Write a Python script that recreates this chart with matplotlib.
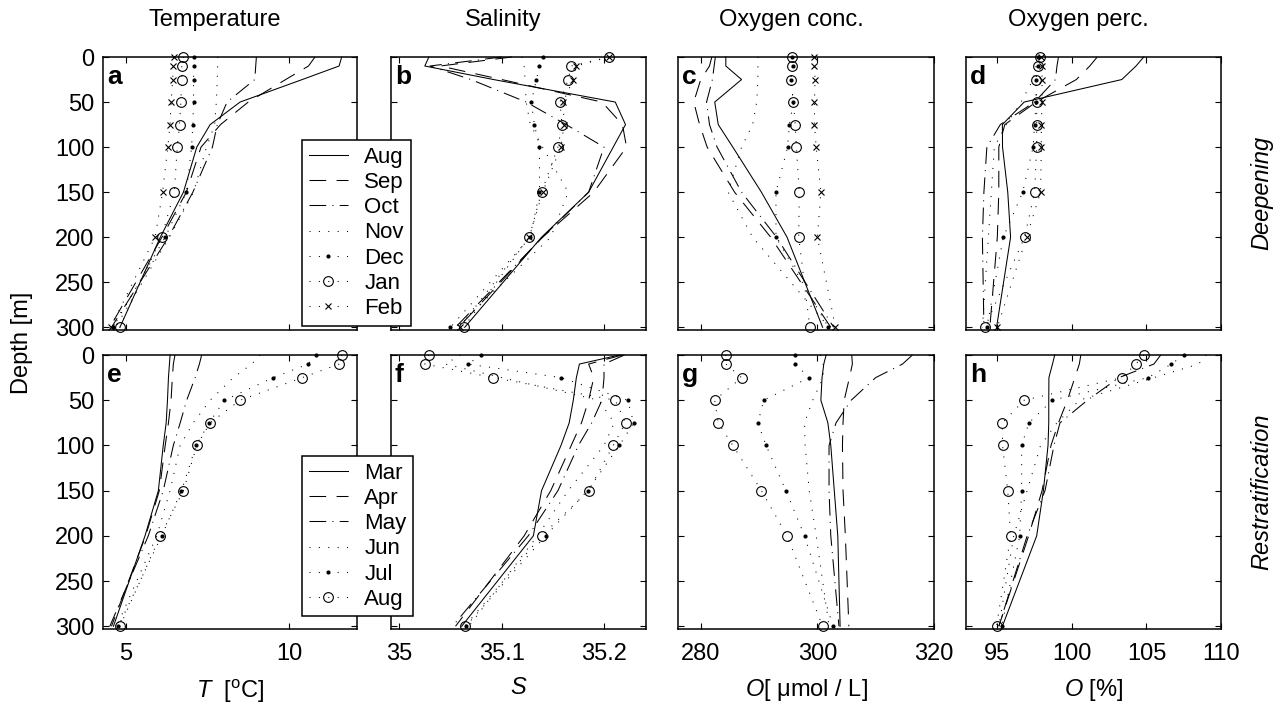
import matplotlib
matplotlib.use('Agg')
import matplotlib.pyplot as plt

plt.rcParams['font.family'] = 'Liberation Sans'
plt.rcParams['mathtext.fontset'] = 'custom'
plt.rcParams['mathtext.rm'] = 'Liberation Sans'
plt.rcParams['mathtext.it'] = 'Liberation Sans:italic'

# depth levels [m]
depth = [0, 10, 25, 50, 75, 100, 150, 200, 300]

# ---- temperature [degC]
temp_aug = [11.62, 11.54, 10.41, 8.50, 7.58, 7.17, 6.76, 6.05, 4.81]
temp_sep = [10.80, 10.60, 9.90, 8.75, 7.90, 7.30, 6.85, 6.10, 4.50]
temp_oct = [9.00, 8.98, 8.95, 8.10, 7.80, 7.65, 7.05, 6.30, 4.55]
temp_nov = [7.81, 7.81, 7.80, 7.77, 7.72, 7.47, 7.07, 6.33, 4.67]
temp_dec = [7.07, 7.07, 7.07, 7.07, 7.05, 7.01, 6.85, 6.20, 4.60]
temp_jan = [6.76, 6.71, 6.71, 6.68, 6.64, 6.57, 6.48, 6.09, 4.80]
temp_feb = [6.47, 6.45, 6.43, 6.38, 6.35, 6.28, 6.12, 5.89, 4.53]
temp_mar = [6.35, 6.33, 6.30, 6.27, 6.23, 6.14, 5.99, 5.58, 4.61]
temp_apr = [6.50, 6.45, 6.42, 6.38, 6.30, 6.20, 6.02, 5.60, 4.55]
temp_may = [7.32, 7.25, 7.12, 6.86, 6.66, 6.45, 6.14, 5.68, 4.50]
temp_jun = [9.11, 8.86, 8.29, 7.58, 7.06, 6.66, 6.35, 5.94, 4.71]
temp_jul = [10.83, 10.59, 9.52, 8.02, 7.55, 7.15, 6.70, 6.09, 4.76]

# ---- salinity
sal_aug = [35.029, 35.025, 35.092, 35.211, 35.221, 35.209, 35.185, 35.139, 35.064]
sal_sep = [35.110, 35.040, 35.100, 35.198, 35.218, 35.222, 35.190, 35.140, 35.058]
sal_oct = [35.100, 35.030, 35.070, 35.124, 35.163, 35.200, 35.185, 35.140, 35.055]
sal_nov = [35.120, 35.122, 35.123, 35.124, 35.128, 35.140, 35.165, 35.148, 35.056]
sal_dec = [35.140, 35.137, 35.134, 35.129, 35.132, 35.137, 35.137, 35.128, 35.050]
sal_jan = [35.205, 35.168, 35.165, 35.157, 35.159, 35.155, 35.139, 35.127, 35.063]
sal_feb = [35.205, 35.173, 35.170, 35.160, 35.161, 35.158, 35.140, 35.127, 35.059]
sal_mar = [35.215, 35.176, 35.173, 35.170, 35.166, 35.158, 35.139, 35.131, 35.061]
sal_apr = [35.218, 35.185, 35.190, 35.185, 35.178, 35.168, 35.148, 35.122, 35.055]
sal_may = [35.220, 35.200, 35.200, 35.198, 35.188, 35.175, 35.155, 35.126, 35.052]
sal_jun = [35.060, 35.045, 35.100, 35.195, 35.210, 35.200, 35.165, 35.135, 35.068]
sal_jul = [35.080, 35.067, 35.158, 35.223, 35.229, 35.215, 35.184, 35.143, 35.065]

# ---- oxygen concentration [umol/L]
oxc_aug = [284.3, 284.3, 287.0, 282.4, 283.0, 285.5, 290.4, 294.8, 300.9]
oxc_sep = [281.9, 281.5, 280.0, 278.8, 279.8, 281.1, 285.8, 292.0, 302.3]
oxc_oct = [282.5, 282.3, 282.0, 281.0, 281.5, 282.8, 287.0, 293.0, 302.8]
oxc_nov = [289.8, 289.8, 289.8, 289.6, 288.9, 287.0, 284.7, 288.9, 302.0]
oxc_dec = [295.7, 295.8, 295.4, 295.9, 295.2, 294.9, 292.9, 292.9, 301.9]
oxc_jan = [295.7, 295.7, 295.4, 295.9, 296.2, 296.4, 296.9, 296.8, 298.7]
oxc_feb = [299.5, 299.5, 299.6, 299.5, 299.5, 299.8, 300.6, 300.0, 303.1]
oxc_mar = [301.5, 301.1, 300.8, 300.6, 301.8, 302.3, 302.9, 303.5, 303.9]
oxc_apr = [305.9, 306.0, 305.5, 304.6, 304.4, 304.3, 304.4, 304.8, 305.4]
oxc_may = [316.3, 314.6, 310.0, 305.8, 303.2, 302.0, 302.0, 302.3, 303.7]
oxc_jun = [300.5, 301.0, 301.0, 299.2, 297.8, 297.9, 298.6, 299.8, 302.0]
oxc_jul = [296.2, 296.2, 298.6, 290.8, 289.8, 291.2, 294.6, 297.8, 302.7]

# ---- oxygen saturation [%]
oxp_aug = [104.82, 104.3, 103.35, 96.8, 95.34, 95.35, 95.7, 95.89, 94.95]
oxp_sep = [101.7, 101.2, 100.3, 97.6, 95.5, 95.1, 95.1, 95.0, 94.5]
oxp_oct = [99.1, 99.0, 98.9, 97.5, 95.2, 94.3, 94.1, 94.0, 94.1]
oxp_nov = [97.7, 97.6, 97.4, 96.6, 95.6, 94.8, 94.6, 94.4, 94.0]
oxp_dec = [97.7, 97.7, 97.6, 97.6, 97.5, 97.4, 96.7, 95.4, 94.3]
oxp_jan = [97.84, 97.73, 97.57, 97.64, 97.64, 97.64, 97.5, 96.83, 94.17]
oxp_feb = [97.9, 98.0, 98.0, 98.0, 97.95, 97.95, 97.9, 96.96, 95.0]
oxp_mar = [98.85, 98.7, 98.46, 98.45, 98.45, 98.40, 98.09, 97.64, 95.34]
oxp_apr = [100.6, 100.5, 100.2, 99.7, 99.1, 98.6, 98.0, 97.1, 95.1]
oxp_may = [105.96, 105.5, 103.16, 101.04, 99.2, 98.8, 98.2, 97.0, 95.1]
oxp_jun = [109.0, 108.5, 105.5, 100.5, 99.0, 97.9, 97.0, 96.1, 95.1]
oxp_jul = [107.5, 106.68, 105.11, 98.69, 97.12, 96.63, 96.63, 96.5, 95.3]

months_deep = ['Aug', 'Sep', 'Oct', 'Nov', 'Dec', 'Jan', 'Feb']
months_rest = ['Mar', 'Apr', 'May', 'Jun', 'Jul', 'Aug']

deep = [
    [temp_aug, temp_sep, temp_oct, temp_nov, temp_dec, temp_jan, temp_feb],
    [sal_aug, sal_sep, sal_oct, sal_nov, sal_dec, sal_jan, sal_feb],
    [oxc_aug, oxc_sep, oxc_oct, oxc_nov, oxc_dec, oxc_jan, oxc_feb],
    [oxp_aug, oxp_sep, oxp_oct, oxp_nov, oxp_dec, oxp_jan, oxp_feb],
]
rest = [
    [temp_mar, temp_apr, temp_may, temp_jun, temp_jul, temp_aug],
    [sal_mar, sal_apr, sal_may, sal_jun, sal_jul, sal_aug],
    [oxc_mar, oxc_apr, oxc_may, oxc_jun, oxc_jul, oxc_aug],
    [oxp_mar, oxp_apr, oxp_may, oxp_jun, oxp_jul, oxp_aug],
]

titles = ['Temperature', 'Salinity', 'Oxygen conc.', 'Oxygen perc.']
xlabels = [r'$T$  [$^{\rm o}$C]', r'$S$', r'$O$[ μmol / L]', r'$O$ [%]']
xlims = [(4.29, 12.09), (34.992, 35.241), (276.1, 320.0), (92.9, 110.0)]
xticks = [[5, 10], [35, 35.1, 35.2], [280, 300, 320], [95, 100, 105, 110]]
xticklabels = [['5', '10'], ['35', '35.1', '35.2'], ['280', '300', '320'],
               ['95', '100', '105', '110']]
letters = [['a', 'b', 'c', 'd'], ['e', 'f', 'g', 'h']]

# line styles in matlab fashion
lw = 0.75
dot = (0, (1, 8))
st_solid = dict(ls='-')
st_dash = dict(ls=(0, (16, 10)))
st_dashdot = dict(ls=(0, (16, 6, 1, 6)))
st_dot = dict(ls=dot)
st_dotpt = dict(ls=dot, marker='.', ms=4)
st_doto = dict(ls=dot, marker='o', ms=7, mfc='none', mew=0.8)
st_dotx = dict(ls=dot, marker='x', ms=5, mew=0.8)
styles_deep = [st_solid, st_dash, st_dashdot, st_dot, st_dotpt, st_doto, st_dotx]
styles_rest = [st_solid, st_dash, st_dashdot, st_dot, st_dotpt, st_doto]

W, H = 1279, 714
fig = plt.figure(figsize=(W / 100, H / 100), dpi=100)

cols = [(103, 357), (391, 646), (678, 934), (966, 1221)]
rows = [(57, 330), (355, 629)]
fs = 17

handles = [[], []]
for r, (top, bot) in enumerate(rows):
    data = deep if r == 0 else rest
    styles = styles_deep if r == 0 else styles_rest
    for c, (left, right) in enumerate(cols):
        ax = fig.add_axes([left / W, 1 - bot / H, (right - left) / W, (bot - top) / H])
        for series, st in zip(data[c], styles):
            ln, = ax.plot(series, depth, color='k', lw=lw, clip_on=False, **st)
            if c == 0:
                handles[r].append(ln)
        ax.set_xlim(*xlims[c])
        ax.set_ylim(303, 0)
        ax.set_xticks(xticks[c])
        ax.set_yticks(range(0, 301, 50))
        ax.tick_params(direction='in', top=True, right=True, length=4, width=0.8,
                       labelsize=fs, pad=6)
        ax.tick_params(axis='x', pad=10)
        for sp in ax.spines.values():
            sp.set_linewidth(1.1)
        if r == 1:
            ax.set_xticklabels(xticklabels[c])
            ax.set_xlabel(xlabels[c], fontsize=fs, labelpad=9)
        else:
            ax.set_xticklabels([])
        if c != 0:
            ax.set_yticklabels([])
        ax.text(0.015, 0.9, letters[r][c], transform=ax.transAxes, fontsize=19,
                fontweight='bold', va='baseline', ha='left')
        if r == 0:
            fig.text(((left + right) / 2 - 15) / W, 1 - 20 / H, titles[c], fontsize=fs,
                     ha='center', va='center')

leg_kw = dict(loc='upper left', fontsize=16, frameon=True, fancybox=False,
              edgecolor='k', framealpha=1, borderaxespad=0, borderpad=0.3,
              handlelength=1.75, handletextpad=0.75, labelspacing=0.19, numpoints=1)
lg1 = fig.legend(handles[0], months_deep, bbox_to_anchor=(302 / W, 1 - 140 / H), **leg_kw)
lg2 = fig.legend(handles[1], months_rest, bbox_to_anchor=(302 / W, 1 - 456 / H), **leg_kw)
for lg in (lg1, lg2):
    lg.get_frame().set_linewidth(1.1)

fig.text(22 / W, 1 - 343 / H, 'Depth [m]', rotation=90, fontsize=fs,
         ha='center', va='center')
fig.text(1262 / W, 1 - 193 / H, 'Deepening', rotation=90, fontsize=fs,
         style='italic', ha='center', va='center')
fig.text(1262 / W, 1 - 492 / H, 'Restratification', rotation=90, fontsize=fs,
         style='italic', ha='center', va='center')

fig.savefig('out.png', dpi=100)
